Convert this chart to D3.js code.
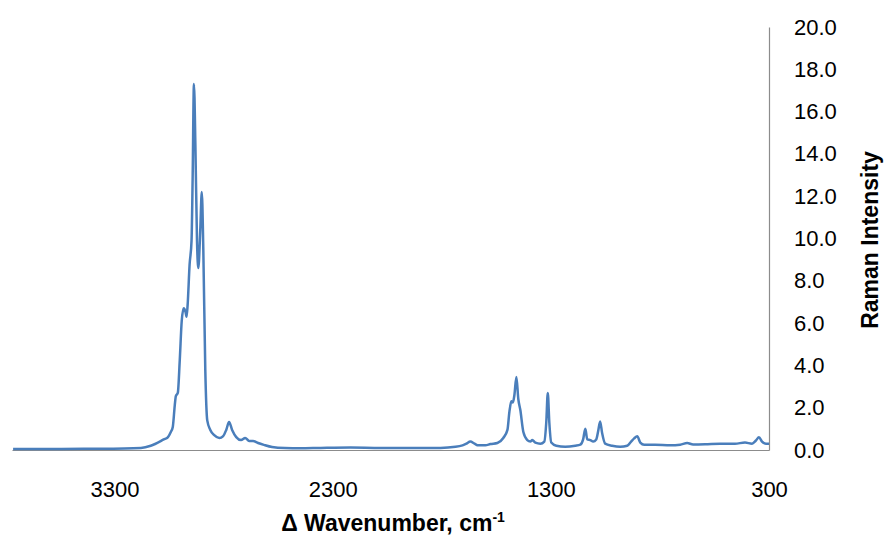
<!DOCTYPE html>
<html>
<head>
<meta charset="utf-8">
<script src="https://cdn.jsdelivr.net/npm/d3@7"></script>
<style>
  html, body { margin: 0; padding: 0; background: #fff; }
  svg { display: block; }
  text { font-family: "Liberation Sans", Arial, sans-serif; fill: #000; }
</style>
</head>
<body>
<svg id="chart" width="884" height="542"></svg>
<script>
// ---- data ----
const wavenumbers = [
  3765, 3545, 3362, 3179, 3134, 3074, 3056, 3042, 3033, 3024, 3019, 3010, 3001, 2992, 2983, 2974, 2970, 2965,
  2956, 2947, 2942, 2936, 2929, 2922, 2916, 2907, 2900, 2893, 2884, 2875, 2861, 2843, 2820, 2802, 2788, 2775,
  2761, 2742, 2720, 2701, 2683, 2665, 2642, 2615, 2578, 2519, 2450, 2355, 2218, 2081, 1943, 1806, 1737, 1705,
  1687, 1669, 1650, 1632, 1600, 1577, 1545, 1518, 1499, 1490, 1481, 1474, 1467, 1458, 1449, 1440, 1426, 1408,
  1394, 1385, 1371, 1348, 1330, 1321, 1314, 1307, 1298, 1275, 1234, 1188, 1165, 1152, 1142, 1133, 1119, 1106,
  1092, 1083, 1074, 1065, 1051, 1019, 982, 950, 932, 918, 904, 890, 872, 822, 753, 707, 675, 648, 593, 524,
  456, 410, 378, 360, 346, 332, 314, 300
];
const intensities = [
  0.05, 0.05, 0.06, 0.10, 0.20, 0.50, 0.60, 0.85, 1.09, 2.10, 2.55, 2.70, 4.25, 6.10, 6.70, 6.50, 6.30, 6.85,
  8.75, 9.90, 12.8, 17.3, 14.2, 9.90, 8.60, 10.4, 12.2, 9.45, 3.80, 1.40, 0.95, 0.70, 0.57, 0.66, 0.95, 1.32,
  0.95, 0.61, 0.47, 0.57, 0.43, 0.43, 0.33, 0.24, 0.14, 0.09, 0.08, 0.10, 0.12, 0.10, 0.10, 0.10, 0.15, 0.22,
  0.30, 0.40, 0.30, 0.22, 0.22, 0.28, 0.33, 0.57, 0.95, 1.80, 2.30, 2.25, 2.60, 3.45, 2.40, 1.90, 0.85, 0.47,
  0.40, 0.47, 0.35, 0.30, 0.40, 1.30, 2.70, 1.30, 0.35, 0.20, 0.15, 0.20, 0.25, 0.50, 1.00, 0.50, 0.47, 0.40,
  0.50, 0.90, 1.35, 0.80, 0.30, 0.20, 0.15, 0.20, 0.40, 0.55, 0.65, 0.35, 0.25, 0.25, 0.22, 0.25, 0.33, 0.26,
  0.27, 0.30, 0.30, 0.35, 0.30, 0.45, 0.60, 0.40, 0.30, 0.30
];
const xTickValues = [3300, 2300, 1300, 300];
const yTickValues = [0, 2, 4, 6, 8, 10, 12, 14, 16, 18, 20];
const xTitle = "Δ Wavenumber, cm";
const xTitleSup = "-1";
const yTitle = "Raman Intensity";

const points = wavenumbers.map((w, i) => ({ w, v: intensities[i] }));

// ---- layout ----
const svg = d3.select("#chart");
const plotLeft = 12, plotRight = 769, plotTop = 27, plotBottom = 450;

const x = d3.scaleLinear().domain([3770, 300]).range([plotLeft, plotRight]);
const y = d3.scaleLinear().domain([0, 20]).range([plotBottom, plotTop]);

// x axis
const xAxis = svg.append("g")
  .attr("transform", `translate(0,${plotBottom})`)
  .call(d3.axisBottom(x).tickValues(xTickValues).tickSize(0).tickPadding(31).tickFormat(d3.format("d")));
xAxis.select(".domain").attr("stroke", "#8c8c8c").attr("stroke-width", 1.2);
xAxis.selectAll("text").attr("font-size", 22).attr("font-family", "Liberation Sans, Arial, sans-serif").attr("fill", "#000");

// y axis (right side)
const yAxis = svg.append("g")
  .attr("transform", `translate(${plotRight},0)`)
  .call(d3.axisRight(y).tickValues(yTickValues).tickSize(0).tickPadding(25).tickFormat(d3.format(".1f")));
yAxis.select(".domain").attr("stroke", "#8c8c8c").attr("stroke-width", 1.2);
yAxis.selectAll("text").attr("font-size", 22).attr("font-family", "Liberation Sans, Arial, sans-serif").attr("fill", "#000");

// line
const line = d3.line().x(d => x(d.w)).y(d => y(d.v)).curve(d3.curveMonotoneX);
svg.append("path")
  .datum(points)
  .attr("fill", "none")
  .attr("stroke", "#4a7ebb")
  .attr("stroke-width", 2.5)
  .attr("stroke-linejoin", "round")
  .attr("d", line);

// titles
const xt = svg.append("text")
  .attr("x", 393).attr("y", 531)
  .attr("text-anchor", "middle")
  .attr("font-size", 23).attr("font-weight", "bold");
xt.append("tspan").text(xTitle);
xt.append("tspan").attr("font-size", 14).attr("dy", -9).text(xTitleSup);

svg.append("text")
  .attr("transform", "translate(878,240) rotate(-90)")
  .attr("text-anchor", "middle")
  .attr("font-size", 23).attr("font-weight", "bold")
  .text(yTitle);
</script>
</body>
</html>
